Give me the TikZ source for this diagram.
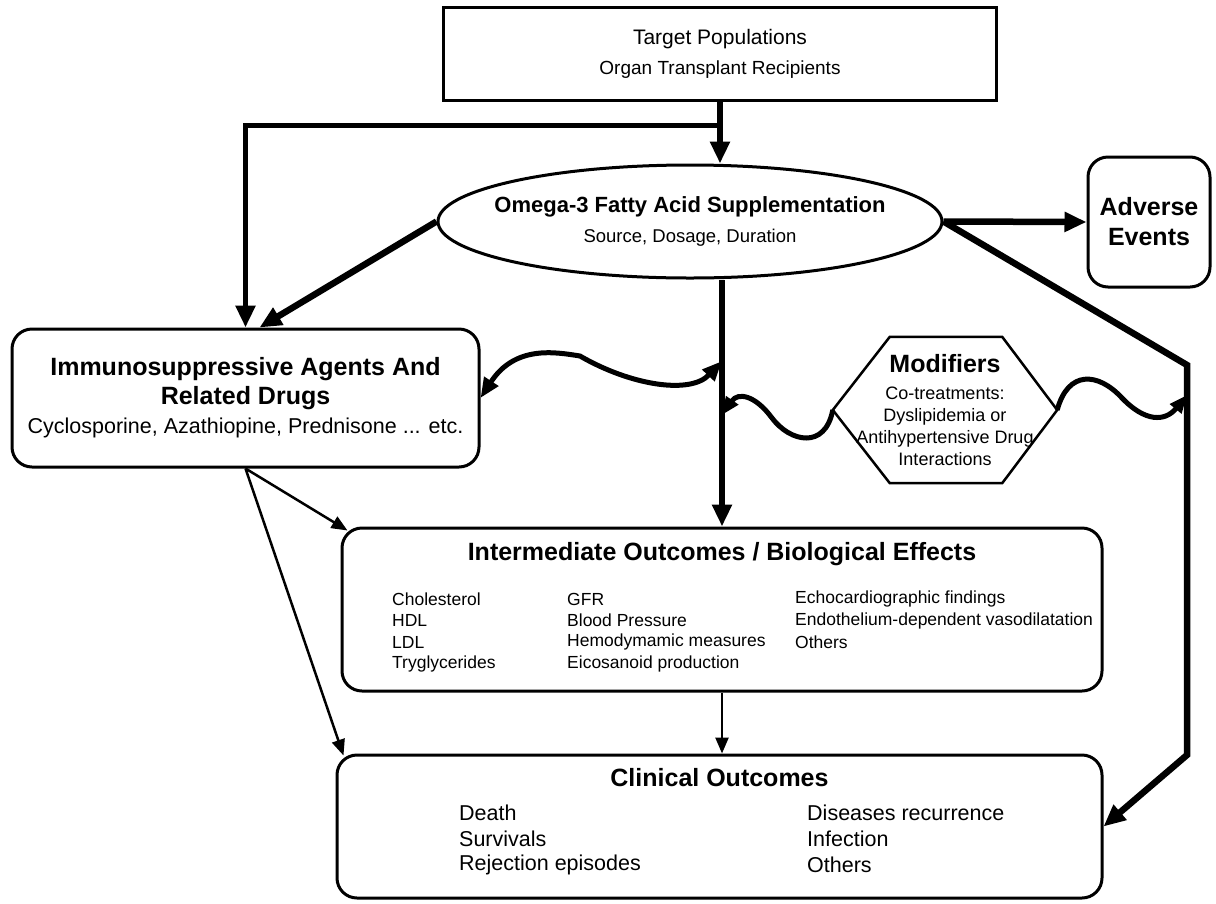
\documentclass[tikz,border=0pt]{standalone}
\usepackage{fontspec}
\setmainfont{Liberation Sans}
\usepackage{tikz}
\usetikzlibrary{positioning,arrows.meta,calc,shapes.geometric}

\tikzset{
  roundbox/.style={draw,line width=3pt,rounded corners=20pt,inner sep=0pt},
  heavy/.style={line width=5.5pt,-{Triangle[length=22pt,width=19pt]}},
  light/.style={line width=2.5pt,-{Triangle[length=16pt,width=13pt]}},
  wave/.style={line width=5pt},
  item/.style={anchor=west,inner sep=0pt,font=\fontsize{17.5}{21}\selectfont},
  citem/.style={anchor=west,inner sep=0pt,font=\fontsize{21.5}{26}\selectfont},
}
\newcommand{\bigtitle}{\fontsize{25}{30}\selectfont\bfseries}

\begin{document}
\begin{tikzpicture}[x=1pt,y=-1pt]
  \useasboundingbox (0,0) rectangle (1216,903);
  % boxes
  \node[draw,line width=3pt,minimum width=553pt,minimum height=93pt,align=center,
        font=\fontsize{21}{30}\selectfont] (target) at (720,53.5)
        {Target Populations\\\fontsize{19}{30}\selectfont Organ Transplant Recipients};
  \node[ellipse,draw,line width=3pt,minimum width=504pt,minimum height=113pt,inner sep=0pt] (omega) at (690,221.5) {};
  \node[align=center,font=\fontsize{22}{30}\selectfont] (omegaT) at (omega.center)
        {\bfseries Omega-3 Fatty Acid Supplementation\\\fontsize{18.5}{30}\selectfont Source, Dosage, Duration};
  \node[roundbox,minimum width=122pt,minimum height=130pt,align=center,
        font={\fontsize{25}{30}\selectfont\bfseries}] (adverse) at (1149,222) {Adverse\\Events};
  \node[roundbox,minimum width=467pt,minimum height=138pt,align=center,
        font={\fontsize{25}{29}\selectfont}] (immuno) at (245.5,398)
        {\bfseries Immunosuppressive Agents And\\\bfseries Related Drugs\\
         \fontsize{21.5}{28}\selectfont Cyclosporine, Azathiopine, Prednisone ... etc.};
  \node[minimum width=224pt,minimum height=146pt,inner sep=0pt,align=center,
        font=\fontsize{18}{22}\selectfont] (modif) at (945,410)
        {{\fontsize{25}{22}\selectfont\bfseries Modifiers}\\[5pt]Co-treatments:\\Dyslipidemia or\\
         Antihypertensive Drug\\Interactions};
  \draw[line width=2.5pt] (modif.west) -- ($(modif.north west)+(57,0)$) -- ($(modif.north east)+(-55,0)$)
    -- (modif.east) -- ($(modif.south east)+(-55,0)$) -- ($(modif.south west)+(57,0)$) -- cycle;

  \node[roundbox,minimum width=760pt,minimum height=163pt] (inter) at (722,609.5) {};
  \node[font=\bigtitle] (interT) at (722,554) {Intermediate Outcomes / Biological Effects};
  \foreach \txt [count=\i] in {Cholesterol,HDL,LDL,Tryglycerides}
    \node[item] (interA\i) at (392,{599+21.5*(\i-1)}) {\txt};
  \foreach \txt [count=\i] in {GFR,Blood Pressure,Hemodymamic measures,Eicosanoid production}
    \node[item] (interB\i) at (567,{599+21.5*(\i-1)}) {\txt};
  \foreach \txt [count=\i] in {Echocardiographic findings,Endothelium-dependent vasodilatation,Others}
    \node[item] (interC\i) at (795,{599+21.5*(\i-1)}) {\txt};

  \node[roundbox,minimum width=765pt,minimum height=143pt] (clin) at (719.5,826.5) {};
  \node[font=\bigtitle] (clinT) at (719.5,778) {Clinical Outcomes};
  \foreach \txt [count=\i] in {Death,Survivals,Rejection episodes}
    \node[citem] (clinA\i) at (459,{813+26*(\i-1)}) {\txt};
  \foreach \txt [count=\i] in {Diseases recurrence,Infection,Others}
    \node[citem] (clinB\i) at (807,{813+26*(\i-1)}) {\txt};

  % points on the lines
  \coordinate (split) at ($(target.south)+(0,24)$);
  \coordinate (wTop) at (722,361);
  \coordinate (wMid) at (722,415);
  \coordinate (rTop) at (1187,365);
  \coordinate (rBot) at (1187,755);
  \coordinate (wRight) at (1187,395);

  % arrows
  \draw[heavy] (target.south) -- (target.south |- omega.north);
  \draw[heavy] (split) -| (immuno.north);
  \draw[heavy,line width=6.5pt] (omega.west) -- ($(immuno.north)+(14,0)$);
  \draw[heavy,line width=6.5pt] (omega.east) -- (adverse.west);
  \draw[heavy] (omega.south -| inter.north) -- (inter.north);
  \draw[heavy,line width=6.5pt] (omega.east) -- (rTop) -- (rBot) -- (clin.east);
  \draw[light] (immuno.south) -- ($(inter.north west)+(7,4)$);
  \draw[light] (immuno.south) -- ($(clin.north west)+(8,2)$);
  \draw[light] (inter.south) -- (inter.south |- clin.north);

  % waves
  \draw[wave,{Triangle[length=20pt,width=16pt]}-{Triangle[length=20pt,width=16pt]}]
    (immuno.east) .. controls (515,345) and (555,352) .. (580,356)
    .. controls (630,385) and (690,395) .. (wTop);
  \draw[wave,-{Triangle[length=18pt,width=14pt]}]
    (modif.west) .. controls (825,450) and (790,442) .. (772,418)
    .. controls (755,395) and (738,392) .. (wMid);
  \draw[wave,-{Triangle[length=18pt,width=14pt]}]
    (modif.east) .. controls (1068,370) and (1098,372) .. (1122,398)
    .. controls (1145,422) and (1165,422) .. (wRight);
\end{tikzpicture}
\end{document}
